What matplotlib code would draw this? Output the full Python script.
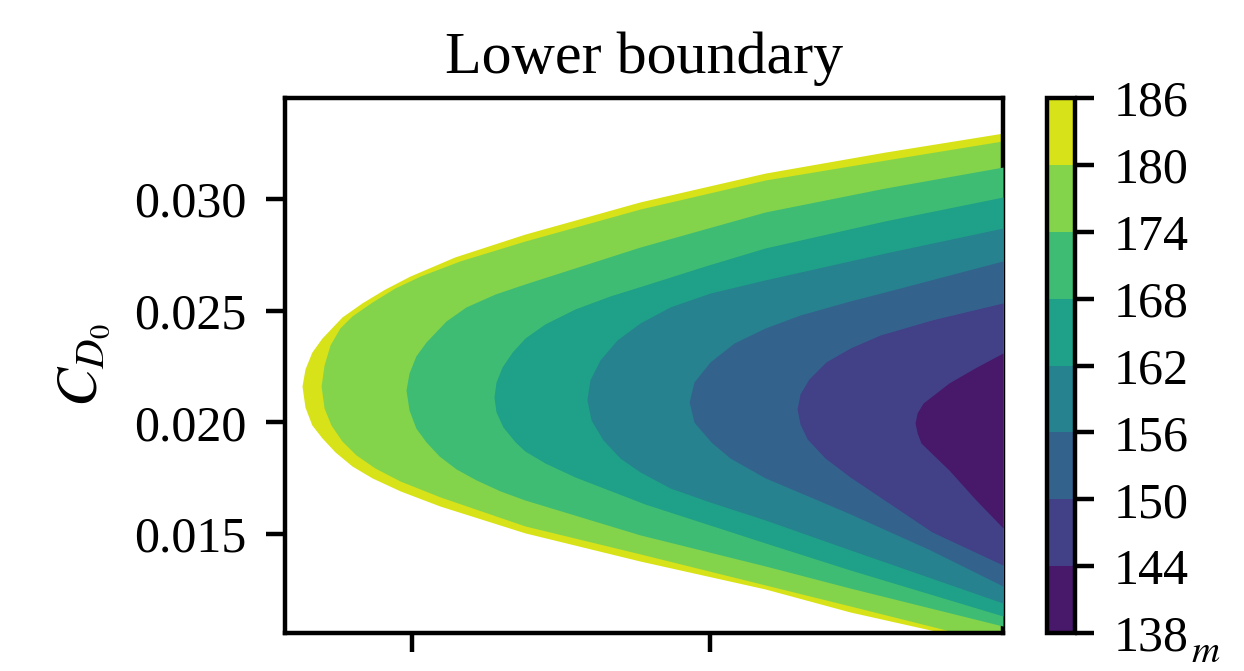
import numpy as np
import matplotlib
matplotlib.use('Agg')
import matplotlib.pyplot as plt
from matplotlib.colors import ListedColormap, BoundaryNorm
from matplotlib.cm import ScalarMappable
from matplotlib.ticker import FormatStrFormatter

plt.rcParams['font.family'] = ['Liberation Serif', 'DejaVu Serif']
plt.rcParams['mathtext.fontset'] = 'stix'

# contour levels of the colour bar
levels = [138, 144, 150, 156, 162, 168, 174, 180, 186]

# axis ranges (x has no tick labels in the original)
x_lim = (5.74, 29.83)
cd0_lim = (0.01058, 0.03452)
x_ticks = [10, 20]
cd0_ticks = [0.015, 0.020, 0.025, 0.030]

# level lines: x position against C_D0, top to bottom
# outer edge of the feasible region (186)
x_186 = [29.83, 25.87, 21.85, 17.65, 13.79, 11.44, 9.93, 9.09, 8.32, 7.65, 6.98, 6.64, 6.41, 6.31,
         6.41, 6.64, 6.98, 7.42, 7.99, 8.66, 9.60, 10.94, 13.79, 17.65, 21.85, 24.70, 27.85]
cd0_186 = [0.03295, 0.03210, 0.03116, 0.02987, 0.02843, 0.02741, 0.02655, 0.02597, 0.02535,
           0.02472, 0.02378, 0.02315, 0.02239, 0.02163, 0.02069, 0.01989, 0.01931, 0.01868,
           0.01805, 0.01752, 0.01694, 0.01626, 0.01506, 0.01380, 0.01255, 0.01152, 0.01058]

x_180 = [29.83, 25.87, 21.85, 17.65, 13.79, 11.61, 10.27, 9.43, 8.66, 7.99, 7.58, 7.25, 7.05, 6.95,
         7.05, 7.28, 7.65, 8.12, 8.76, 9.60, 10.94, 13.79, 17.65, 21.85, 24.70, 28.32]
cd0_180 = [0.03260, 0.03174, 0.03085, 0.02955, 0.02812, 0.02723, 0.02655, 0.02602, 0.02539,
           0.02477, 0.02423, 0.02347, 0.02257, 0.02163, 0.02065, 0.01989, 0.01917, 0.01855,
           0.01796, 0.01738, 0.01667, 0.01537, 0.01412, 0.01273, 0.01179, 0.01058]

x_174 = [29.83, 25.87, 21.85, 17.65, 13.79, 12.79, 11.81, 11.14, 10.47, 10.13, 9.90, 9.80,
         9.90, 10.13, 10.47, 10.91, 11.48, 12.15, 12.95, 13.79, 17.65, 21.85, 24.70, 29.83]
cd0_174 = [0.03143, 0.03049, 0.02942, 0.02785, 0.02620, 0.02575, 0.02517, 0.02454, 0.02360,
           0.02298, 0.02221, 0.02145, 0.02056, 0.01975, 0.01913, 0.01850, 0.01792, 0.01743,
           0.01694, 0.01653, 0.01497, 0.01358, 0.01259, 0.01089]

x_168 = [29.83, 25.87, 21.85, 19.83, 17.82, 16.64, 15.47, 14.46, 13.79, 13.36, 13.02, 12.82,
         12.75, 12.82, 13.05, 13.46, 13.79, 14.46, 15.47, 17.82, 21.85, 24.70, 29.83]
cd0_168 = [0.03009, 0.02902, 0.02781, 0.02700, 0.02615, 0.02566, 0.02508, 0.02441, 0.02378,
           0.02315, 0.02248, 0.02181, 0.02114, 0.02047, 0.01980, 0.01913, 0.01872, 0.01819,
           0.01756, 0.01635, 0.01461, 0.01340, 0.01134]

x_162 = [29.83, 25.87, 21.85, 20.00, 18.66, 17.65, 16.88, 16.31, 15.97, 15.87,
         16.01, 16.41, 16.98, 17.65, 18.66, 20.00, 21.85, 24.70, 29.83]
cd0_162 = [0.02870, 0.02758, 0.02638, 0.02579, 0.02517, 0.02445, 0.02369, 0.02280, 0.02190,
           0.02101, 0.02011, 0.01922, 0.01841, 0.01779, 0.01707, 0.01644, 0.01564, 0.01430,
           0.01192]

x_156 = [29.83, 25.87, 24.70, 23.02, 21.85, 20.81, 20.00, 19.46, 19.30,
         19.46, 20.03, 20.67, 21.85, 23.36, 24.70, 27.38, 29.83]
cd0_156 = [0.02723, 0.02584, 0.02544, 0.02481, 0.02423, 0.02356, 0.02271, 0.02181, 0.02092,
           0.02002, 0.01913, 0.01841, 0.01752, 0.01667, 0.01591, 0.01430, 0.01268]

x_150 = [29.83, 27.45, 25.70, 24.70, 23.89, 23.32, 23.02, 22.92,
         23.02, 23.26, 23.86, 24.70, 27.45, 29.83]
cd0_150 = [0.02535, 0.02459, 0.02391, 0.02333, 0.02271, 0.02195, 0.02128, 0.02060,
           0.01993, 0.01926, 0.01841, 0.01756, 0.01510, 0.01362]

x_144 = [29.83, 28.89, 28.02, 27.15, 26.95, 26.88, 26.95, 27.08, 28.02, 28.89, 29.83]
cd0_144 = [0.02311, 0.02244, 0.02177, 0.02087, 0.02043, 0.01998, 0.01953, 0.01908,
           0.01787, 0.01658, 0.01528]

# outer line first, innermost last
level_lines = [(186, x_186, cd0_186), (180, x_180, cd0_180), (174, x_174, cd0_174),
               (168, x_168, cd0_168), (162, x_162, cd0_162), (156, x_156, cd0_156),
               (150, x_150, cd0_150), (144, x_144, cd0_144)]

# colours as contourf gives them: viridis at the middle of each band
n_bands = len(levels) - 1
band_colors = plt.get_cmap('viridis')((np.arange(n_bands) + 0.5) / n_bands)
cmap = ListedColormap(band_colors)
norm = BoundaryNorm(levels, n_bands)

fig = plt.figure(figsize=(1244 / 400, 671 / 400), dpi=400)
ax = fig.add_axes([285 / 1244, 38 / 671, 718 / 1244, 535 / 671])
cax = fig.add_axes([1047 / 1244, 38 / 671, 28 / 1244, 535 / 671])

# paint from the outer line inwards, each region filled to the right edge
for i, (lev, xs, cs) in enumerate(level_lines):
    band = levels.index(lev) - 1
    ax.fill_betweenx(cs, xs, x_lim[1], color=band_colors[band], linewidth=0, zorder=1 + i)

ax.set_xlim(x_lim)
ax.set_ylim(cd0_lim)
ax.set_xticks(x_ticks)
ax.tick_params(axis='x', labelbottom=False)
ax.set_yticks(cd0_ticks)
ax.yaxis.set_major_formatter(FormatStrFormatter('%.3f'))
ax.tick_params(labelsize=9)
ax.set_ylabel('$C_{D_0}$', fontsize=10.5)
ax.set_title('Lower boundary', fontsize=10.8, pad=4.5)

cbar = fig.colorbar(ScalarMappable(norm=norm, cmap=cmap), cax=cax, ticks=levels)
cbar.ax.tick_params(labelsize=9)
cax.text(5.15, -0.055, '$m$', transform=cax.transAxes, fontsize=7, ha='left', va='baseline')

fig.savefig('out.png', dpi=400)
